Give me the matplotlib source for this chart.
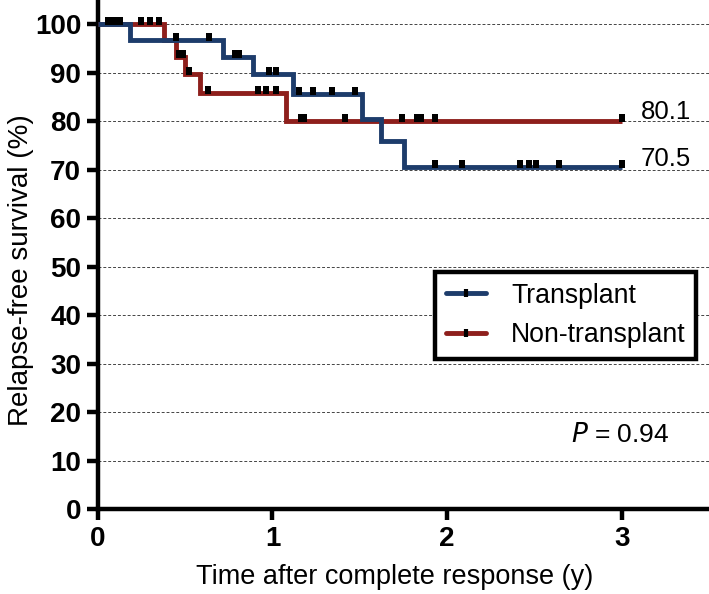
import numpy as np
import matplotlib
matplotlib.use("Agg")
from matplotlib import pyplot as plt
from matplotlib.lines import Line2D

plt.rcParams['font.family'] = ['Liberation Sans', 'DejaVu Sans']

# Kaplan-Meier steps (time in years, survival in %)
tx_times = [0, 0.183, 0.714, 0.89, 1.12, 1.515, 1.62, 1.755, 3.0]
tx_surv = [100, 96.7, 93.3, 89.7, 85.7, 80.4, 76.0, 70.5, 70.5]
tx_censor = [0.06, 0.09, 0.446, 0.634, 0.783, 0.811, 0.98, 1.02, 1.15, 1.23,
             1.34, 1.47, 1.93, 2.085, 2.42, 2.47, 2.51, 2.64, 3.0]

ntx_times = [0, 0.377, 0.446, 0.497, 0.583, 1.08, 3.0]
ntx_surv = [100, 96.7, 93.2, 89.8, 85.8, 80.1, 80.1]
ntx_censor = [0.125, 0.25, 0.30, 0.35, 0.462, 0.485, 0.52, 0.63, 0.915, 0.965,
              1.02, 1.165, 1.18, 1.417, 1.74, 1.83, 1.85, 1.93, 3.0]

final_labels = ["70.5", "80.1"]
p_text = "$\\it{P}$ = 0.94"

blue = '#1d3c6b'
red = '#8e1f1c'

# small censor tick sitting on top of the line
tick = [(-0.4, -0.2), (0.4, -0.2), (0.4, 1.0), (-0.4, 1.0), (-0.4, -0.2)]


def level_at(times, surv, t):
    idx = np.searchsorted(times, t, side='right') - 1
    return np.array(surv)[idx]


fig = plt.figure(figsize=(7.09, 5.94), dpi=100)
ax = fig.add_axes([0.138, 0.143, 0.862, 0.857])

for y in range(10, 101, 10):
    ax.axhline(y, color='#444444', lw=0.7, ls=(0, (3, 2)), zorder=1)

ax.step(ntx_times, ntx_surv, where='post', color=red, lw=3.5, zorder=3,
        solid_joinstyle='miter', solid_capstyle='butt')
ax.step(tx_times, tx_surv, where='post', color=blue, lw=3.5, zorder=4,
        solid_joinstyle='miter', solid_capstyle='butt')

ax.plot(ntx_censor, level_at(ntx_times, ntx_surv, ntx_censor), ls='none',
        marker=tick, ms=10, color='black', mew=0, zorder=5)
ax.plot(tx_censor, level_at(tx_times, tx_surv, tx_censor), ls='none',
        marker=tick, ms=10, color='black', mew=0, zorder=5)

ax.text(3.11, tx_surv[-1] + 0.3, final_labels[0], fontsize=18.5, va='baseline')
ax.text(3.11, ntx_surv[-1] + 0.4, final_labels[1], fontsize=18.5, va='baseline')
ax.text(2.71, 15.2, p_text, fontsize=19, va='center')

ax.set_xlim(0, 3.5)
ax.set_ylim(0, 105)
ax.set_xticks([0, 1, 2, 3])
ax.set_yticks(range(0, 101, 10))
for s in ['top', 'right']:
    ax.spines[s].set_visible(False)
for s in ['left', 'bottom']:
    ax.spines[s].set_linewidth(3.2)
ax.tick_params(width=3.2, length=8, labelsize=20, pad=4)
for lab in ax.get_xticklabels() + ax.get_yticklabels():
    lab.set_fontweight('bold')

ax.set_xlabel('Time after complete response (y)', fontsize=19.5)
ax.set_ylabel('Relapse-free survival (%)', fontsize=20)
ax.xaxis.set_label_coords(0.485, -0.108)
ax.yaxis.set_label_coords(-0.104, 0.47)

handles = [Line2D([], [], color=blue, lw=3.5, marker='|', ms=6, mew=3, mec='black',
                  solid_capstyle='round'),
           Line2D([], [], color=red, lw=3.5, marker='|', ms=6, mew=3, mec='black',
                  solid_capstyle='round')]
leg = ax.legend(handles, ['Transplant', 'Non-transplant'], loc='upper left',
                bbox_to_anchor=(0.552, 0.466), fontsize=19.2, frameon=True,
                fancybox=False, edgecolor='black', framealpha=1,
                handlelength=1.5, borderpad=0.4, labelspacing=0.5,
                handletextpad=0.95, borderaxespad=0)
leg.get_frame().set_linewidth(3.2)

fig.savefig('out.png', dpi=100)
